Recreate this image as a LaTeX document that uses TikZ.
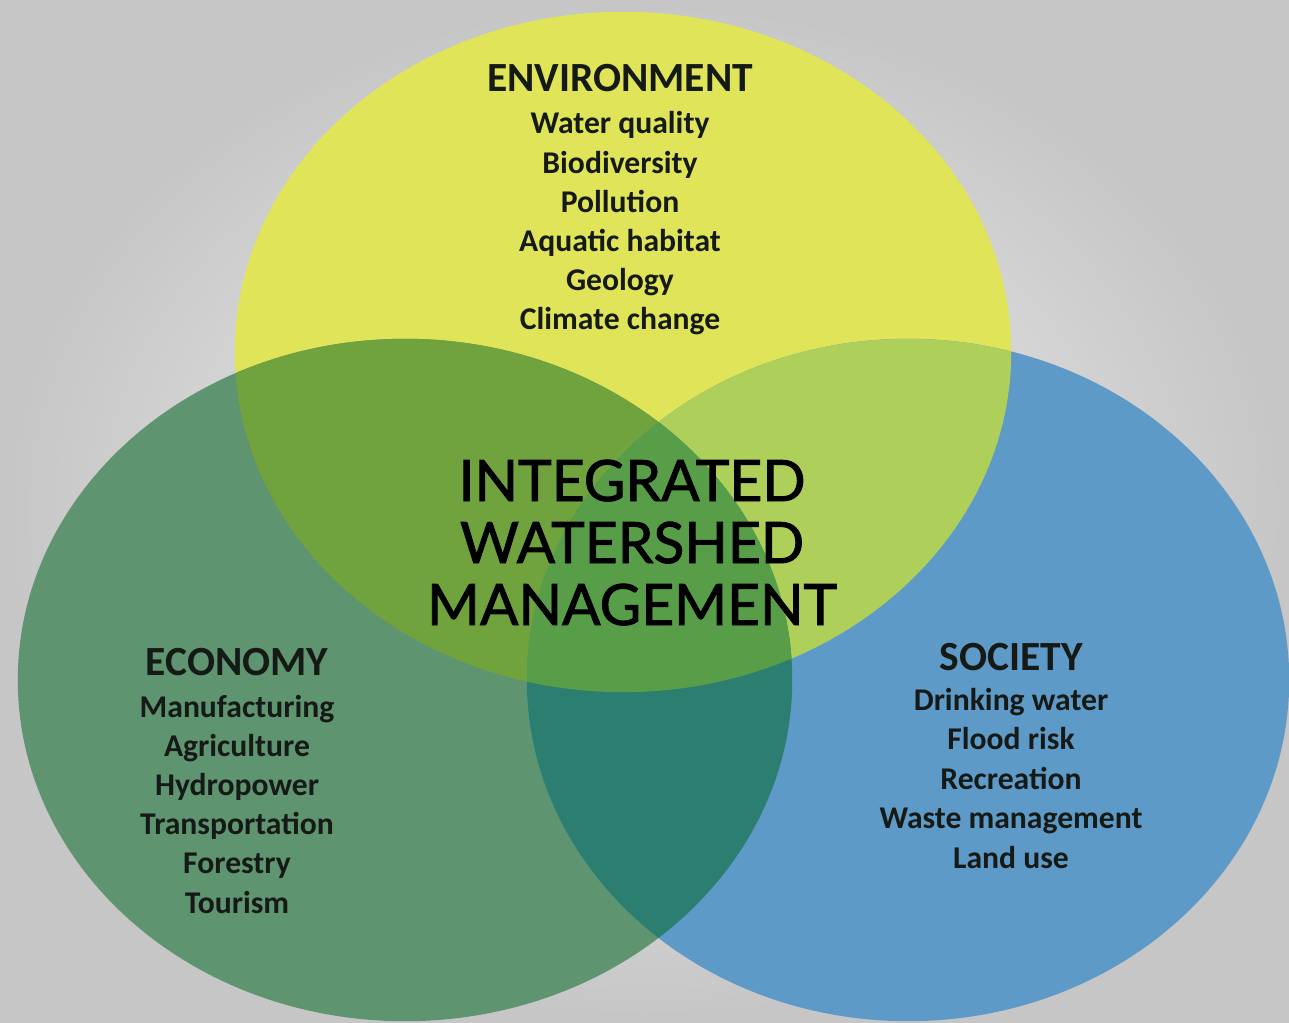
\documentclass[tikz,border=0pt]{standalone}
\usepackage{fontspec}
\usepackage{tikz}
\newfontfamily\labelfont{Carlito}
\newfontfamily\titlefont[FakeBold=1.6]{Lato}
\definecolor{envcol}{RGB}{224,228,88}
\definecolor{ecocol}{RGB}{94,148,112}
\definecolor{soccol}{RGB}{94,154,200}
\definecolor{enveco}{RGB}{112,162,62}
\definecolor{envsoc}{RGB}{174,207,90}
\definecolor{ecosoc}{RGB}{44,126,112}
\definecolor{allcol}{RGB}{88,158,72}
\definecolor{textcol}{RGB}{22,26,22}
\tikzstyle{head} = [anchor=base,inner sep=0pt,text=textcol,font=\labelfont\bfseries\fontsize{11.8}{14}\selectfont]
\tikzstyle{item} = [anchor=base,inner sep=0pt,text=textcol,font=\labelfont\bfseries\fontsize{9}{11}\selectfont]
\tikzstyle{title} = [anchor=base,inner sep=0pt,text=black,font=\titlefont\fontsize{16.2}{19}\selectfont]

\begin{document}
\begin{tikzpicture}[x=0.01cm,y=-0.01cm]

\useasboundingbox (0,0) rectangle (1289,1022);
\shade[inner color=gray!10,outer color=gray!45] (0,0) rectangle (1289,1022);

% the three circles
\fill[envcol] (623,352) ellipse [x radius=3.88cm,y radius=3.40cm];
\fill[ecocol] (405,680) ellipse [x radius=3.87cm,y radius=3.41cm];
\fill[soccol] (908,680) ellipse [x radius=3.81cm,y radius=3.41cm];

% overlaps
\begin{scope}
\clip (623,352) ellipse [x radius=3.88cm,y radius=3.40cm];
\fill[enveco] (405,680) ellipse [x radius=3.87cm,y radius=3.41cm];
\fill[envsoc] (908,680) ellipse [x radius=3.81cm,y radius=3.41cm];
\end{scope}
\begin{scope}
\clip (405,680) ellipse [x radius=3.87cm,y radius=3.41cm];
\fill[ecosoc] (908,680) ellipse [x radius=3.81cm,y radius=3.41cm];
\end{scope}
\begin{scope}
\clip (623,352) ellipse [x radius=3.88cm,y radius=3.40cm];
\clip (405,680) ellipse [x radius=3.87cm,y radius=3.41cm];
\fill[allcol] (908,680) ellipse [x radius=3.81cm,y radius=3.41cm];
\end{scope}

% labels
\node[head] (env) at (620,92) {ENVIRONMENT};
\foreach \t [count=\i] in {Water quality,Biodiversity,Pollution,Aquatic habitat,Geology,Climate change}
{
\node[item] (env\i) at (620,134+39.2*\i-39.2) {\t};
}

\node[head] (eco) at (237,675) {ECONOMY};
\foreach \t [count=\i] in {Manufacturing,Agriculture,Hydropower,Transportation,Forestry,Tourism}
{
\node[item] (eco\i) at (237,717+39.2*\i-39.2) {\t};
}

\node[head] (soc) at (1011,670) {SOCIETY};
\foreach \t [count=\i] in {Drinking water,Flood risk,Recreation,Waste management,Land use}
{
\node[item] (soc\i) at (1011,710+39.5*\i-39.5) {\t};
}

\node[title] (iwm1) at (632,501) {INTEGRATED};
\node[title] (iwm2) at (632,563) {WATERSHED};
\node[title] (iwm3) at (632,625) {MANAGEMENT};

\end{tikzpicture}
\end{document}
